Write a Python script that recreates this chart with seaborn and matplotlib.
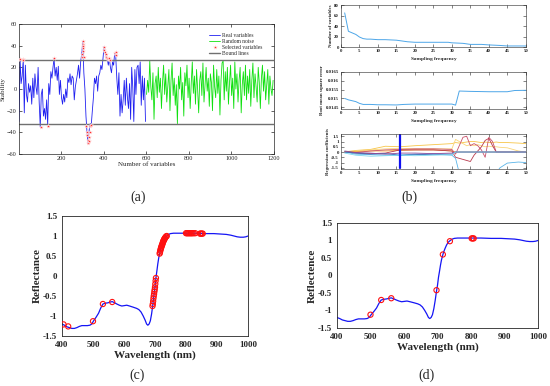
import numpy as np
import pandas as pd
import matplotlib
matplotlib.use('Agg')
import matplotlib.pyplot as plt
import seaborn as sns

sns.set_style('ticks')
plt.rcParams['font.family'] = ['Liberation Serif', 'DejaVu Serif']

# (a) stability of real variables (every 5th variable) and random noise
real_stab = [-30, 28, 5, 12, 27, -22, 22, -5, -12, 5, -3, 3, -14, 10, -8, 14, 2, -5, 20, -12,
             -35, -5, 0, -25, -18, -28, -10, -33, 5, -5, 16, 10, 20, 28, 12, 20, 8, 21, -5, 8,
             -8, -14, -5, -12, 0, -8, 10, 6, 14, 4, 12, 10, -10, 2, 8, 14, 22, 10, 25, 32,
             44, 15, 0, -25, -40, -50, -38, -32, -33, -20, -8, 10, 5, 12, -2, 12, 15, 22, 18, 28,
             39, 35, 30, 28, 22, 28, 20, 15, 25, 22, 33, 30, 10, -5, 15, -25, -5, -22, -10, 8,
             -15, 10, -8, -18, 5, -28, 20, 2, -30, 18, -5, 20, 22, 5, 25, -15, 12, -10, 10, -30]
noise_stab = [-5, 8, -3, 26, 2, -10, 15, -28, 5, 12, -8, 20, -3, 10, -18, 6, 22, -5, 14, -12,
              3, 18, -20, 8, 24, -6, 10, -15, 4, -32, 12, 0, 20, -10, 6, -25, 15, 3, 22, -8,
              10, -18, 5, 25, -4, 12, -14, 18, 0, -22, 8, 16, -6, 24, -12, 4, 20, -2, 10, -16,
              14, 6, -20, 22, 2, -8, 18, -4, 12, -24, 8, 24, 26, -10, 16, -2, 20, -14, 6, 22,
              -6, 10, -18, 25, 0, 14, -12, 8, 20, -22, 4, 16, -6, 22, -10, 12, -4, 18, -16, 8,
              24, -8, 14, 2, -12, 20, 6, -18, 10, 22, -2, 16, -10, 4, 18, -14, 12, 0, -6, 8]
sel_var = [5, 8, 19, 21, 104, 139, 168, 298, 299, 300, 301, 302, 303, 304, 305, 318, 320, 322, 324,
           326, 328, 330, 333, 336, 340, 400, 403, 406, 409, 412, 415, 418, 422, 426, 430, 452, 455, 456]
sel_stab = [28, 28, 28, 27, -35, -34, 29, 30, 32, 35, 38, 42, 44, 40, 30, -34, -40, -42, -47,
            -50, -48, -44, -40, -34, -33, 39, 36, 34, 32, 30, 29, 28, 28, 29, 27, 33, 34, 31]
bound_hi, bound_lo = 26.5, -32

# (b) sampling runs
freq_nv = [1, 2, 3, 4, 5, 6, 7, 8, 10, 12, 15, 16, 18, 20, 25, 29, 30, 33, 35, 38, 40, 43, 45, 50]
num_vars = [65, 30, 27, 24, 19, 16, 15, 15, 14, 14, 13, 12, 10, 9, 9, 9, 8, 7, 5, 5, 4, 3, 2, 2]
freq_rm = [1, 2, 3, 4, 5, 6, 8, 10, 12, 15, 17, 20, 25, 30, 31, 32, 35, 40, 45, 47, 50]
rmse = [0.0150, 0.01492, 0.01487, 0.01482, 0.01472, 0.01466, 0.01466, 0.01464, 0.01464, 0.01463,
        0.01466, 0.01468, 0.01468, 0.01468, 0.01462, 0.01542, 0.01540, 0.01538, 0.01538, 0.01545, 0.01546]
freq_rc = [1, 4, 8, 12, 16, 20, 25, 30, 31, 32, 33, 34, 35, 36, 37, 38, 39, 40, 41, 42, 43, 45, 48, 50]
coef = {
    'c1': [0, 0.15, 0.25, 0.55, 0.5, 0.6, 0.7, 0.8, 0.9, 0.85, 0.9, 0.95, 1.0, 1.0, 0.95, 0.9, 0.95, 0.9, 0.9, 0.95, 0.9, 0.9, 0.85, 0.8],
    'c2': [0.05, 0.1, 0.2, 0.3, 0.35, 0.3, 0.3, 0.3, 1.2, 1.0, 0.8, 0.6, 0.7, 0.6, 0.7, 0.6, 0.5, 0.55, 0.5, 0.5, 0.45, 0.4, 0.1, 0.0],
    'c3': [0, 0.05, 0.1, 0.1, 0.15, 0.2, 0.2, 0.1, 0, 0, 0, 0, 0, 0, 0, 0, 0, 0, 0, 0, 0, 0, 0, 0],
    'c4': [0, -0.05, 0.1, 0.2, 0.25, 0.3, 0.3, 0.25, -0.2, 0.6, 1.4, 1.5, 0.6, 0.8, 0.6, 0.2, -0.5, 1.4, 1.0, 0.0, 0, 0, 0, 0],
    'c5': [0, -0.1, -0.15, -0.1, 0.2, 0.2, 0.2, 0.1, -0.5, -0.6, -0.7, -0.8, -0.9, -0.3, 0.1, 0.5, 1.1, 1.3, 0.6, 0.0, 0, 0, 0, 0],
    'c6': [0, -0.2, -0.25, -0.3, -0.3, -0.2, -0.2, -0.3, -0.6, -2, -3, -3, -3, -3, -3, -3, -3, -3, -3, -2, -1.5, -1.05, -0.95, -1.0],
    'c7': [0, -0.1, -0.2, -0.15, -0.3, -0.25, -0.2, -0.2, 0, 0, 0, 0, 0, 0, 0, 0, 0, 0, 0, 0, 0, 0, 0, 0],
    'c8': [0.1, -0.05, -0.1, -0.2, -0.1, -0.1, -0.15, -0.1, 0, 0, 0, 0, 0, 0, 0, 0, 0, 0, 0, 0, 0, 0, 0, 0],
    'c9': [-0.1, -0.3, -0.4, -0.35, -0.3, -0.35, -0.3, -0.25, 0, 0, 0, 0, 0, 0, 0, 0, 0, 0, 0, 0, 0, 0, 0, 0],
}
coef_colors = ['#F7C548', '#FAD57A', '#F0A030', '#C8506A', '#B83A4E', '#5AB4E8', '#3A6FB8', '#8A4A9A', '#7FD8EE']
best_freq = 16

# (c)/(d) spectrum
wl = [400, 408, 416, 424, 432, 440, 448, 456, 464, 472, 482, 490, 496, 502, 510, 518, 525, 532, 540, 548,
      556, 562, 570, 577, 585, 593, 601, 609, 618, 630, 641, 648, 655, 662, 668, 673, 677, 681, 685, 689,
      693, 697, 700, 703, 706, 709, 712, 715, 718, 722, 727, 732, 738, 744, 750, 760, 780, 800, 830, 860,
      890, 910, 930, 945, 955, 965, 975, 985, 993, 1000]
refl = [-1.2, -1.23, -1.27, -1.29, -1.31, -1.31, -1.29, -1.26, -1.24, -1.24, -1.24, -1.23, -1.2, -1.12, -1.03, -0.93, -0.8, -0.7, -0.68, -0.67,
        -0.65, -0.64, -0.67, -0.70, -0.73, -0.75, -0.74, -0.73, -0.75, -0.78, -0.81, -0.84, -0.9, -1.0, -1.1, -1.2, -1.23, -1.2, -1.12, -0.95,
        -0.72, -0.45, -0.28, -0.05, 0.12, 0.3, 0.45, 0.56, 0.66, 0.76, 0.87, 0.95, 1.0, 1.04, 1.06, 1.07, 1.07, 1.07, 1.07, 1.06,
        1.06, 1.05, 1.04, 1.02, 1.0, 0.98, 0.97, 0.97, 0.98, 1.0]
sel_c_wl = [405, 420, 500, 532, 562, 692, 693, 694, 695, 696, 697, 698, 699, 700, 701, 702, 703,
            715, 716, 717, 718, 719, 720, 721, 722, 723, 724, 725, 726, 727, 728, 729, 730, 731, 732, 734, 736, 738,
            800, 803, 806, 809, 812, 815, 818, 821, 825, 830, 845, 848, 851, 854]
sel_c_ref = [-1.21, -1.26, -1.13, -0.7, -0.65, -0.75, -0.7, -0.63, -0.56, -0.5, -0.45, -0.39, -0.34, -0.28, -0.2, -0.12, -0.05,
             0.56, 0.59, 0.63, 0.66, 0.69, 0.71, 0.74, 0.76, 0.78, 0.8, 0.83, 0.85, 0.87, 0.89, 0.9, 0.92, 0.93, 0.95, 0.97, 0.99, 1.0,
             1.07, 1.07, 1.07, 1.07, 1.07, 1.07, 1.07, 1.07, 1.07, 1.07, 1.06, 1.06, 1.06, 1.06]
sel_d_wl = [500, 532, 562, 697, 716, 737, 802, 805, 808]
sel_d_ref = [-1.12, -0.7, -0.65, -0.42, 0.6, 0.98, 1.06, 1.06, 1.06]


def box(ax, size, bold=False, lw=0.5, pad=1.5):
    ax.tick_params(direction='in', top=True, right=True, labelsize=size, width=lw, length=2, pad=pad)
    for s in ax.spines.values():
        s.set_linewidth(lw)
    if bold:
        for t in ax.get_xticklabels() + ax.get_yticklabels():
            t.set_fontweight('bold')


fig = plt.figure(figsize=(5.5, 3.86), dpi=100)

# ---- (a)
ax = fig.add_axes([0.0345, 0.601, 0.4636, 0.3368])
sns.lineplot(x=np.arange(1, 1 + 5 * len(real_stab), 5), y=real_stab, ax=ax, color='#2020F0', lw=0.6, label='Real variables')
sns.lineplot(x=np.arange(601, 601 + 5 * len(noise_stab), 5), y=noise_stab, ax=ax, color='#10E010', lw=0.6, label='Random noise')
sns.scatterplot(x=sel_var, y=sel_stab, ax=ax, color='#FF3030', marker='*', s=10, linewidth=0.3, label='Selected variables', zorder=3)
ax.axhline(bound_hi, color='#707070', lw=1.0, label='Bound lines')
ax.axhline(bound_lo, color='#707070', lw=1.0)
ax.set_xlim(1, 1200)
ax.set_ylim(-60, 60)
ax.set_xticks([200, 400, 600, 800, 1000, 1200])
ax.set_yticks(range(-60, 61, 20))
ax.set_xlabel('Number of variables', fontsize=5, labelpad=1)
ax.set_ylabel('Stability', fontsize=5, labelpad=1)
box(ax, 4.5)
ax.legend(loc='upper right', bbox_to_anchor=(0.97, 0.96), frameon=False, fontsize=4, handlelength=2,
          labelspacing=0.15, borderpad=0.2, handletextpad=0.3)

# ---- (b)
b1 = fig.add_axes([0.62, 0.8782, 0.336, 0.1088])
sns.lineplot(x=freq_nv, y=num_vars, ax=b1, color='#4DA6E8', lw=0.7)
b1.set_xlim(0, 50)
b1.set_ylim(0, 80)
b1.set_xticks(range(0, 51, 5))
b1.set_yticks(range(0, 81, 20))
b1.set_xlabel('Sampling frequency', fontsize=3.8, fontweight='bold', labelpad=3)
b1.set_ylabel('Number of variables', fontsize=3.5, fontweight='bold', labelpad=1)
box(b1, 3.5, bold=True, lw=0.4)

b2 = fig.add_axes([0.62, 0.7176, 0.336, 0.0959])
sns.lineplot(x=freq_rm, y=rmse, ax=b2, color='#4DA6E8', lw=0.7)
b2.set_xlim(0, 50)
b2.set_ylim(0.0144, 0.0165)
b2.set_xticks(range(0, 51, 5))
b2.set_yticks([0.0145, 0.015, 0.0155, 0.016, 0.0165])
b2.set_yticklabels(['0.0145', '0.015', '0.0155', '0.016', '0.0165'])
b2.set_xlabel('Sampling frequency', fontsize=3.8, fontweight='bold', labelpad=3)
b2.set_ylabel('Root mean square error', fontsize=3.5, fontweight='bold', labelpad=1)
box(b2, 3.5, bold=True, lw=0.4)

b3 = fig.add_axes([0.62, 0.5625, 0.336, 0.090])
coef_df = pd.DataFrame(coef)
coef_df['freq'] = freq_rc
coef_long = coef_df.melt(id_vars='freq', var_name='var', value_name='coef')
sns.lineplot(data=coef_long, x='freq', y='coef', hue='var', palette=coef_colors, ax=b3, lw=0.6, legend=False)
b3.axvline(best_freq, ymin=0.02, ymax=0.98, color='#1010F0', lw=1.6)
b3.set_xlim(0, 50)
b3.set_ylim(-1.6, 1.7)
b3.set_xticks(range(0, 51, 5))
b3.set_yticks([-1.5, -1, -0.5, 0, 0.5, 1, 1.5])
b3.set_yticklabels(['-1.5', '-1', '-0.5', '0', '0.5', '1', '1.5'])
b3.set_xlabel('Sampling frequency', fontsize=3.8, fontweight='bold', labelpad=3)
b3.set_ylabel('Regression coefficients', fontsize=3.5, fontweight='bold', labelpad=1)
box(b3, 3.5, bold=True, lw=0.4)

# ---- (c) and (d)
for pos, sx, sy, ylab in [([0.1127, 0.1295, 0.3382, 0.3109], sel_c_wl, sel_c_ref, 'Reflectance'),
                          ([0.6127, 0.1503, 0.3655, 0.272], sel_d_wl, sel_d_ref, 'Reflectence')]:
    ax = fig.add_axes(pos)
    sns.lineplot(x=wl, y=refl, ax=ax, color='#1515F5', lw=0.9)
    sns.scatterplot(x=sx, y=sy, ax=ax, marker='o', s=14, facecolor='none', edgecolor='#FF1010', linewidth=0.8, zorder=3)
    ax.set_xlim(400, 1000)
    ax.set_ylim(-1.5, 1.5)
    ax.set_xticks(range(400, 1001, 100))
    ax.set_yticks([-1.5, -1, -0.5, 0, 0.5, 1, 1.5])
    ax.set_yticklabels(['-1.5', '-1', '-0.5', '0', '0.5', '1', '1.5'])
    ax.set_xlabel('Wavelength (nm)', fontsize=8, fontweight='bold', labelpad=1)
    ax.set_ylabel(ylab, fontsize=8, fontweight='bold', labelpad=1)
    box(ax, 6.5, bold=True, lw=0.6, pad=3.5)
    ax.tick_params(length=0)

fig.text(0.251, 0.488, '(a)', fontsize=10, ha='center', va='center')
fig.text(0.745, 0.488, '(b)', fontsize=10, ha='center', va='center')
fig.text(0.249, 0.028, '(c)', fontsize=10, ha='center', va='center')
fig.text(0.776, 0.028, '(d)', fontsize=10, ha='center', va='center')

fig.savefig('out.png', dpi=100)
